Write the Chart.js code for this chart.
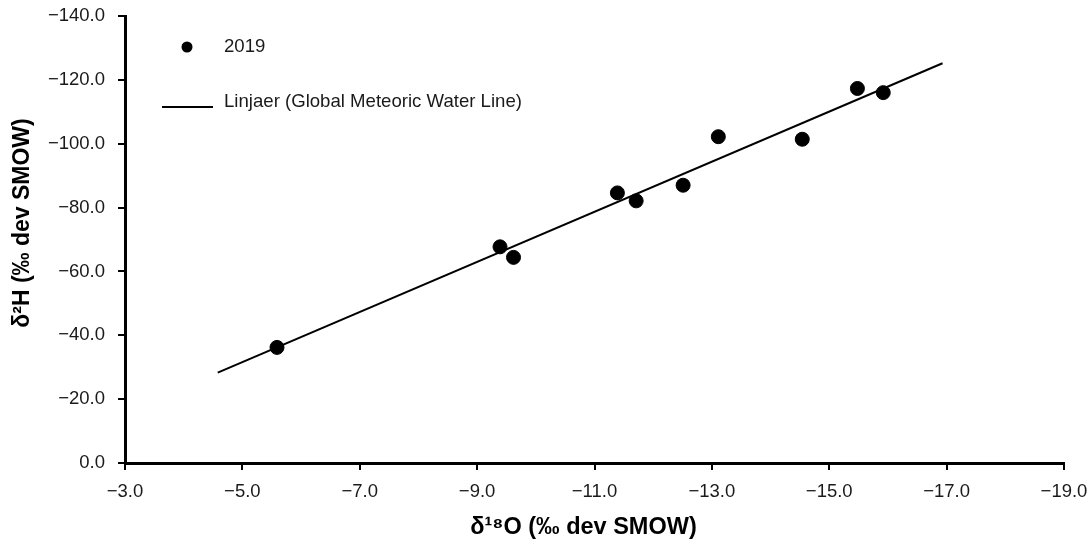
<!DOCTYPE html>
<html>
<head>
<meta charset="utf-8">
<script src="https://cdn.jsdelivr.net/npm/chart.js@4"></script>
<style>
  body { margin: 0; background: #fff; }
  #wrap { width: 1091px; height: 549px; position: relative; }
</style>
</head>
<body>
<div id="wrap"><canvas id="isoChart"></canvas></div>
<script>
// sample values
const d18O = [-5.59, -9.39, -9.62, -11.39, -11.71, -12.51, -13.11, -14.54, -15.48, -15.92];
const d2H = [-36.2, -67.7, -64.4, -84.6, -82.1, -87.0, -102.2, -101.4, -117.3, -116.0];

// meteoric water line end points
const gmwlX = [-4.58, -16.93];
const gmwlY = [-28.3, -125.2];

// axis ranges / ticks
const xRange = [-19, -3];
const xStep = 2;
const yRange = [-140, 0];
const yStep = 20;

const seriesNames = ['2019', 'Linjaer (Global Meteoric Water Line)'];
const xTitle = 'δ¹⁸O (‰ dev SMOW)';
const yTitle = 'δ²H (‰ dev SMOW)';

const fmt = v => (v < 0 ? '\u2212' : '') + Math.abs(v).toFixed(1);
const FONT = "'Liberation Sans', Arial, sans-serif";

// legend + axis titles drawn inside the canvas
const extras = {
  id: 'extras',
  afterDraw(chart) {
    const ctx = chart.ctx;
    const area = chart.chartArea;
    ctx.save();
    ctx.fillStyle = '#000';
    ctx.strokeStyle = '#000';
    // legend
    ctx.beginPath();
    ctx.arc(187, 47, 5.5, 0, Math.PI * 2);
    ctx.fill();
    ctx.lineWidth = 2;
    ctx.beginPath();
    ctx.moveTo(162, 107);
    ctx.lineTo(213, 107);
    ctx.stroke();
    ctx.font = '18.6px ' + FONT;
    ctx.fillStyle = '#1a1a1a';
    ctx.textBaseline = 'middle';
    ctx.textAlign = 'left';
    ctx.fillText(seriesNames[0], 224, 47);
    ctx.fillText(seriesNames[1], 224, 102);
    // x axis title
    ctx.font = 'bold 23.5px ' + FONT;
    ctx.textAlign = 'center';
    ctx.fillStyle = '#000';
    ctx.fillText(xTitle, (area.left + area.right) / 2 - 11, 528);
    // y axis title
    ctx.translate(23, 223);
    ctx.rotate(-Math.PI / 2);
    ctx.font = 'bold 23px ' + FONT;
    ctx.fillText(yTitle, 0, 0);
    ctx.restore();
  }
};

const points = d18O.map((x, i) => ({ x: x, y: d2H[i] }));
const line = gmwlX.map((x, i) => ({ x: x, y: gmwlY[i] }));

new Chart(document.getElementById('isoChart'), {
  type: 'scatter',
  data: {
    datasets: [
      {
        label: seriesNames[0],
        data: points,
        pointRadius: 7,
        pointHoverRadius: 7,
        backgroundColor: '#000',
        borderColor: '#000',
        order: 0
      },
      {
        type: 'line',
        label: seriesNames[1],
        data: line,
        showLine: true,
        pointRadius: 0,
        borderWidth: 2,
        borderColor: '#000',
        fill: false,
        order: 1
      }
    ]
  },
  options: {
    responsive: true,
    maintainAspectRatio: false,
    animation: false,
    layout: { padding: { top: 16, right: 27, left: 0, bottom: 0 } },
    plugins: {
      legend: { display: false },
      tooltip: { enabled: false }
    },
    scales: {
      x: {
        type: 'linear',
        reverse: true,
        min: xRange[0],
        max: xRange[1],
        afterFit: s => { s.height = 86; s.paddingLeft = 0; s.paddingRight = 0; },
        border: { display: true, color: '#000', width: 3 },
        grid: { drawOnChartArea: false, drawTicks: true, tickLength: 7, color: '#000', lineWidth: 2 },
        ticks: {
          stepSize: xStep,
          padding: 11,
          color: '#1a1a1a',
          maxRotation: 0,
          font: { family: FONT, size: 18.5 },
          callback: v => fmt(v)
        }
      },
      y: {
        type: 'linear',
        reverse: true,
        min: yRange[0],
        max: yRange[1],
        afterFit: s => { s.width = 125; s.paddingTop = 0; s.paddingBottom = 0; },
        border: { display: true, color: '#000', width: 3 },
        grid: { drawOnChartArea: false, drawTicks: true, tickLength: 7, color: '#000', lineWidth: 2 },
        ticks: {
          stepSize: yStep,
          padding: 13,
          color: '#1a1a1a',
          font: { family: FONT, size: 18.5 },
          callback: v => fmt(v)
        }
      }
    }
  },
  plugins: [extras]
});
</script>
</body>
</html>
